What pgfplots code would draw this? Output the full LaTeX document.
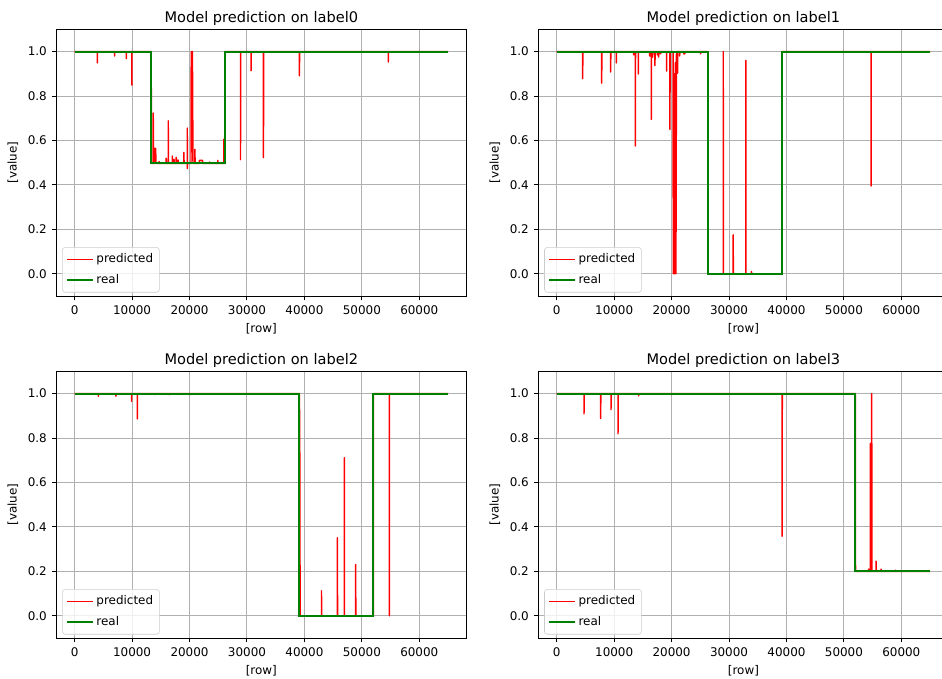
\documentclass[border=0pt]{standalone}
\usepackage{pgfplots}
\pgfplotsset{compat=1.18}
\usepackage{fontspec}
\setmainfont{DejaVu Sans}
\definecolor{mplred}{rgb}{1,0,0}
\definecolor{mplgreen}{rgb}{0,0.5,0}
\definecolor{gridgray}{HTML}{B0B0B0}
\pgfplotsset{
  myax/.style={
    scale only axis, width=295.7pt, height=192pt, anchor=south west,
    xmin=-3250, xmax=68250, ymin=-0.1, ymax=1.1,
    xtick={0,10000,20000,30000,40000,50000,60000},
    ytick={0,0.2,0.4,0.6,0.8,1.0},
    scaled x ticks=false,
    xticklabel style={/pgf/number format/.cd, fixed, set thousands separator={}},
    yticklabel style={/pgf/number format/.cd, fixed, fixed zerofill, precision=1},
    /pgf/number format/assume math mode=true,
    tick label style={font=\fontsize{8.6}{10}\selectfont},
    label style={font=\fontsize{8.6}{10}\selectfont},
    every axis title/.style={at={(0.5,1)}, anchor=base, yshift=4.9pt, font=\fontsize{10.5}{12}\selectfont},
    tick align=outside, tick pos=left,
    major tick length=3.1pt,
    every tick/.style={black, line width=0.7pt},
    axis line style={line width=0.7pt},
    grid=major, major grid style={gridgray, line width=0.7pt},
    xlabel={[row]}, ylabel={[value]},
    legend style={at={(0.015,0.013)}, anchor=south west, draw=black!20, rounded corners=2pt,
      fill=white, fill opacity=0.8, text opacity=1, font=\fontsize{8.6}{10}\selectfont,
      inner sep=2.5pt, row sep=3.2pt},
    legend cell align=left,
    legend image code/.code={\draw[#1] (0pt,0pt) -- (18.5pt,0pt);},
    every axis plot/.append style={line width=1.1pt, line join=round},
  }
}
\begin{document}
\begin{tikzpicture}
\useasboundingbox (0,0) rectangle (678.24pt,488.16pt);
% ---------------- label0
\begin{axis}[myax, at={(40.32pt,275.04pt)}, title={Model prediction on label0}]
\addplot[mplred, line width=1.05pt] coordinates {
(0,1)(3950,1)(3950,0.949)(3950,1)(6960,1)(6960,0.98)(6960,1)(8990,1)(8990,0.968)(8990,1)
(9970,1)(9970,0.849)(9970,1)(13330,1)(13350,0.497)
(13680,0.497)(13680,0.723)(13720,0.497)(13900,0.497)(13900,0.564)(14100,0.564)(14150,0.497)
(14700,0.497)(14700,0.505)(14750,0.497)
(15940,0.497)(15940,0.52)(16000,0.497)
(16290,0.497)(16290,0.688)(16330,0.497)
(16990,0.497)(16990,0.53)(17050,0.497)(17300,0.497)(17300,0.515)(17350,0.497)
(17680,0.497)(17680,0.524)(17750,0.497)(18000,0.497)(18000,0.512)(18050,0.497)
(19010,0.497)(19010,0.546)(19050,0.497)
(19600,0.497)(19600,0.655)(19620,0.474)(19650,0.497)
(20250,0.497)(20300,1)(20400,0.55)(20500,1)(20600,0.497)
(20930,0.497)(20930,0.56)(20970,0.497)
(21700,0.497)(21700,0.51)(22250,0.51)(22300,0.497)
(23500,0.497)(23500,0.503)(23550,0.497)
(24920,0.497)(24920,0.51)(24970,0.497)
(25970,0.497)(25970,0.605)(26000,0.497)(26200,0.497)(26220,1)
(28870,1)(28870,0.514)(28900,1)
(30720,1)(30720,0.914)(30750,1)
(32870,1)(32870,0.523)(32900,1)
(39130,1)(39130,0.891)(39160,1)
(54610,1)(54610,0.953)(54640,1)(65000,1)
};
\addlegendentry{predicted}
\addplot[mplgreen, line width=1.5pt, line join=miter] coordinates {(0,1)(13300,1)(13300,0.5)(26250,0.5)(26250,1)(65000,1)};
\addlegendentry{real}
\end{axis}
% ---------------- label1
\begin{axis}[myax, at={(387.4pt,275.04pt)}, title={Model prediction on label1}]
\addplot[mplred, line width=1.05pt] coordinates {
(0,1)(4520,1)(4520,0.878)(4550,1)(7830,1)(7830,0.858)(7860,1)(9390,1)(9390,0.908)(9420,1)
(10380,1)(10380,0.949)(10410,1)(13390,1)(13390,0.985)(13420,1)
(13690,1)(13690,0.575)(13720,1)(14200,1)(14200,0.899)(14230,1)
(16150,1)(16150,0.98)(16250,0.98)(16300,1)(16460,1)(16460,0.695)(16490,1)
(16700,1)(16700,0.975)(16750,1)(17100,1)(17100,0.937)(17130,1)
(17500,1)(17500,0.985)(17550,1)(17740,1)(17740,0.975)(17800,1)(18100,1)(18100,0.99)(18150,1)
(19130,1)(19130,0.912)(19160,1)(19710,1)(19710,0.65)(19740,1)
(20250,1)(20300,0)(20400,0.9)(20500,0)(20650,0.95)(20750,0)(20850,1)
(21040,1)(21040,0.903)(21070,1)(21400,1)(21400,0.98)(21450,1)
(22100,1)(22100,0.99)(22300,0.99)(22350,1)(25040,1)(25040,0.99)(25070,1)
(26320,1)(26340,0)
(28990,0)(28990,1)(29020,0)(30720,0)(30720,0.175)(30750,0)
(32920,0)(32920,0.96)(32950,0)(33900,0)(33900,0.01)(33950,0)
(39240,0)(39260,1)(54720,1)(54720,0.395)(54750,1)(65000,1)
};
\addlegendentry{predicted}
\addplot[mplgreen, line width=1.5pt, line join=miter] coordinates {(0,1)(26320,1)(26320,0)(39240,0)(39240,1)(65000,1)};
\addlegendentry{real}
\end{axis}
% ---------------- label2
\begin{axis}[myax, at={(40.32pt,28.8pt)}, title={Model prediction on label2}]
\addplot[mplred, line width=1.05pt] coordinates {
(0,1)(4120,1)(4120,0.988)(4150,1)(7190,1)(7190,0.988)(7220,1)(9910,1)(9910,0.965)(9940,1)
(10900,1)(10900,0.886)(10930,1)(14000,1)(14000,0.995)(14030,1)(16500,1)(16500,0.995)(16530,1)
(20200,1)(20200,0.995)(20230,1)
(39130,1)(39200,0.69)(39250,0)
(42970,0)(42970,0.112)(43000,0)(45740,0)(45740,0.351)(45770,0)
(46950,0)(46950,0.711)(46980,0)(48920,0)(48920,0.231)(48950,0)
(52000,0)(52020,1)(54780,1)(54780,0)(54810,1)(65000,1)
};
\addlegendentry{predicted}
\addplot[mplgreen, line width=1.5pt, line join=miter] coordinates {(0,1)(39130,1)(39130,0)(52000,0)(52000,1)(65000,1)};
\addlegendentry{real}
\end{axis}
% ---------------- label3
\begin{axis}[myax, at={(387.4pt,28.8pt)}, title={Model prediction on label3}]
\addplot[mplred, line width=1.05pt] coordinates {
(0,1)(4750,1)(4750,0.909)(4780,1)(7650,1)(7650,0.888)(7680,1)(9450,1)(9450,0.928)(9480,1)
(10670,1)(10670,0.819)(10700,1)(14260,1)(14260,0.99)(14290,1)(20000,1)(20000,0.995)(20030,1)
(39240,1)(39240,0.358)(39270,1)
(52000,1)(52020,0.2)(54300,0.2)(54300,0.21)(54330,0.2)
(54600,0.2)(54600,0.775)(54630,0.2)(54840,0.2)(54840,1)(54870,0.2)
(55600,0.2)(55600,0.246)(55630,0.2)(56460,0.2)(56460,0.21)(56490,0.2)
(59000,0.2)(59000,0.205)(59030,0.2)(65000,0.2)
};
\addlegendentry{predicted}
\addplot[mplgreen, line width=1.5pt, line join=miter] coordinates {(0,1)(52000,1)(52000,0.2)(65000,0.2)};
\addlegendentry{real}
\end{axis}
\end{tikzpicture}
\end{document}
